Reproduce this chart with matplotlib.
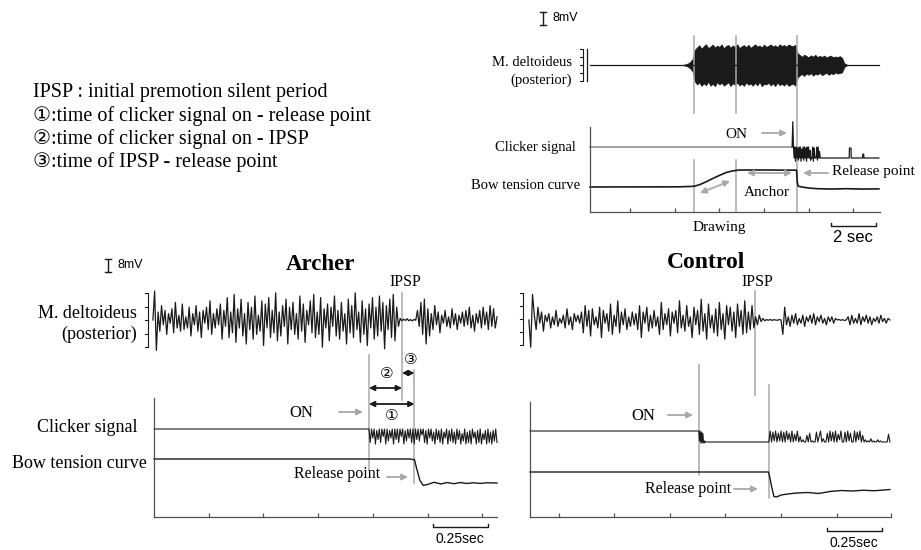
import numpy as np
import matplotlib
matplotlib.use("Agg")
import matplotlib.pyplot as plt
from matplotlib.patches import FancyArrowPatch

W, H = 921, 550
PX_PER_MV = 1.6
SERIF = ["Liberation Serif", "DejaVu Sans"]
SANS = ["Liberation Sans", "DejaVu Sans"]
GRAY = "#a8a8a8"
DARK = "#1a1a1a"
SPINE = "#505050"

# ---------------- overview trial (top right), time in s ----------------
ov_end = 13.0
ov_drawing, ov_anchor, ov_on, ov_release = 4.66, 6.55, 9.06, 9.28
ov_emg_span = (4.2, 11.5)
ov_emg_upper = [0.2, 0.5, 1.0, 2.0, 3.8, 9.5,
                11.0, 12.3, 10.2, 11.8, 12.9, 10.6, 11.5, 12.7, 10.9, 12.1, 11.3, 12.8, 10.4, 11.9, 12.5,
                10.8, 12.2, 11.1, 12.9, 10.5, 11.7, 12.4, 11.0, 12.6, 10.7, 11.8, 12.9, 11.4, 12.2, 10.9,
                12.7, 11.3, 12.0, 12.8, 11.6, 12.3, 11.1, 12.9, 11.8, 12.5, 11.4, 12.8, 12.1, 11.7, 12.6,
                7.5, 6.2, 5.1, 6.4, 5.6, 4.8, 6.0, 5.2, 6.3, 4.9, 5.7, 5.0, 5.9, 4.6, 5.4, 5.8, 4.7, 5.3,
                4.9, 5.5, 4.4, 1.0, 0.4]
ov_emg_lower = [-0.2, -0.5, -1.1, -2.2, -4.0, -10.2,
                -12.1, -10.8, -13.0, -11.4, -12.6, -10.3, -12.9, -11.7, -13.2, -10.6, -12.2, -11.0, -12.8,
                -11.9, -10.7, -13.1, -11.3, -12.4, -10.9, -12.7, -11.6, -13.0, -10.8, -12.3, -11.5, -12.9,
                -11.1, -12.6, -10.5, -13.2, -11.8, -12.1, -11.0, -12.7, -11.4, -13.1, -10.9, -12.5, -11.7,
                -12.8, -11.2, -13.0, -12.2, -11.6, -12.9,
                -7.8, -6.5, -5.6, -6.8, -5.2, -6.1, -5.0, -6.6, -5.4, -6.0, -4.9, -6.3, -5.5, -4.8, -6.1,
                -5.1, -5.7, -4.6, -5.3, -5.0, -4.5, -1.1, -0.4]
ov_click_burst = [1, 3.3, 1, 0, 1, -0.3, 1, 0, 0.9, -0.2, 1, 0, 1, -0.3, 0.8, 0, 1, -0.2, 1, 0, 0.9,
                  -0.3, 1, 0, 1, 0, 0.7, -0.2, 0, 0, 1, -0.3, 0.9, 0, 0, 0, 1, -0.2, 1, 0, 0.6, 0, 0]
ov_click_burst_end = 10.35
ov_click_tail_t = [10.35, 11.62, 11.63, 11.70, 11.71, 12.22, 12.23, 12.27, 12.28, 12.95]
ov_click_tail_v = [0, 0, 0.9, 0.9, 0, 0, 0.35, 0.35, 0, 0]
ov_bow_t = [0, 4.0, 4.66, 4.9, 5.2, 5.5, 5.8, 6.1, 6.4, 6.7, 7.2, 8.0, 8.8, 9.26, 9.29, 9.33,
            9.5, 9.8, 10.2, 10.8, 11.5, 12.2, 12.95]
ov_bow_v = [0, 0.01, 0.04, 0.13, 0.3, 0.5, 0.68, 0.85, 0.95, 1.0, 1.0, 1.0, 0.99, 0.99, 0.3, 0.05,
            0.0, -0.06, -0.1, -0.12, -0.1, -0.12, -0.11]

# ---------------- archer, time in s ----------------
ar_end = 1.567
ar_on, ar_ipsp, ar_release = 0.982, 1.133, 1.19
ar_emg = [0, 18, -19, 5, -7, 9, -3, 6, -9, 4, -2, 7, -8, 11, -5, 3, -7, 10, -6, 2,
          -5, 8, -10, 4, -3, 9, -7, 5, -11, 6, -2, 8, -6, 12, -9, 4, -5, 7, -3, 10,
          -12, 6, -4, 14, -11, 5, -8, 16, -14, 7, -5, 13, -10, 4, -15, 11, -6, 8, -12, 15,
          -9, 3, -7, 12, -16, 10, -5, 14, -11, 6, -8, 17, -13, 5, -10, 9, -4, 13, -15, 8,
          -6, 11, -9, 4, -12, 15, -7, 10, -14, 6, -3, 12, -8, 16, -11, 5, -9, 14, -17, 7,
          -5, 10, -13, 8, -4, 15, -10, 6, -12, 11, -7, 4, -15, 13, -8, 9, -11, 17, -6, 5,
          -14, 12, -9, 7, -16, 10, -5, 14, -12, 8, -10, 15, -7, 11, -18, 9, -6, 13, -11, 16,
          -13, 8, -4, 1, -0.5, 0.5, -0.3, 0.8, -0.5, 0.3, -0.6, 0.4, -0.2, 6, -4, 11, -9, 13, -15, 7,
          -10, 4, -6, 9, -3, 5, -8, 3, -2, 6, -4, 2, -5, 7, -3, 4, -6, 3, -2, 5,
          -4, 6, -3, 8, -5, 3, -7, 4, -2, 6, -5, 8, -3, 5, -6, 9, -4, 7, -5, 2]
ar_click = [0, 0.9, 0, 0.6, 0, 1.0, 0.1, 0.7, 0, 0.9, 0, 0.5, 0, 1.0, 0, 0.8, 0.1, 0.6, 0, 1.0,
            0, 0.7, 0, 0.9, 0, 0.5, 0, 1.0, 0.1, 0.8, 0, 0.6, 0, 0.9, 0, 1.0, 0, 0.7, 0, 0.8,
            0, 0.4, 0, 0.9, 0.1, 1.0, 0, 0.6, 0, 0.8, 0.2, 1.0, 0, 0.7, 0.1, 0.9, 0, 1.0, 0.2, 0.6,
            0, 1.0, 0.1, 0.8, 0, 0.9, 0.2, 1.0, 0, 0.7, 0.1, 1.0, 0.3, 0.8, 0, 1.0, 0.2, 0.9, 0.1, 1.0,
            0, 0.6, 0.2, 1.0, 0.1, 0.9, 0, 1.0, 0.3, 0.7, 0.1, 1.0, 0, 0.9, 0.2, 1.0, 0.1, 0.8, 0, 0.9]
ar_bow_t = [0, 1.17, 1.19, 1.20, 1.215, 1.23, 1.25, 1.28, 1.31, 1.34, 1.37, 1.40, 1.43, 1.46,
            1.49, 1.52, 1.567]
ar_bow_v = [1, 1, 0.97, 0.6, 0.1, -0.1, -0.06, 0.03, -0.04, 0.02, -0.03, 0.02, -0.02, 0.01,
            -0.02, 0.01, 0]

# ---------------- control, time in s ----------------
ct_end = 1.625
ct_on, ct_ipsp, ct_release = 0.76, 1.012, 1.075
ct_emg = [0, -17, 16, 3, -6, 8, -2, 5, -7, 3, -1, 4, -5, 2, -3, 6, -4, 1, -2, 3,
          -5, 7, -3, 2, -6, 4, -1, 3, -2, 5, -8, 9, -4, 6, -10, 7, -3, 2, -5, 8,
          -11, 6, -2, 4, -7, 10, -9, 3, -4, 12, -8, 5, -3, 7, -6, 2, -4, 5, -3, 4,
          -6, 9, -11, 5, -2, 8, -7, 3, -5, 6, -4, 2, -9, 11, -6, 4, -3, 7, -10, 5,
          -2, 6, -8, 12, -5, 3, -7, 9, -4, 2, -11, 8, -3, 6, -9, 13, -7, 4, -12, 10,
          -5, 3, -8, 7, -10, 11, -6, 4, -12, 9, -3, 8, -7, 5, -11, 10, -4, 6, -9, 12,
          -8, 5, -6, 9, -5, 2, -3, 3, -1, 1, -0.5, 0.3, -0.2, 0.4, -0.3, 0.2, 0, -0.2, 0.3, 0,
          -9, 8, -3, 2, -4, 3, -2, 4, -3, 1, -2, 3, -4, 2, -1, 3, -2, 4, -3, 2,
          -1, 3, -2, 1, -3, 2, -1, 2, -2, 1, 0, 0.3, -0.2, 0.2, -0.3, 0.1, 2, -3, 3, -2,
          1, -2, 4, -3, 2, -1, 3, -2, 2, -3, 1, -1, 2, -2, 3, -1, 1, -2, 1, 0]
ct_click_on = [1, 0.1, 1, -0.1, 0.9, -0.1, 0.8, 0, -0.1, 0.1, 0]
ct_click_on_end = 0.79
ct_click_after = [0, 1, 0, 0.9, 0.1, 1, 0, 0.8, 0.1, 1, 0, 0.9, 0, 1, 0.2, 0.8, 0, 1, 0, 0.7,
                  0.1, 1, 0, 0.5, 0, 0.2, 0, 0, 0.6, 0, 0.8, 0, 0.1, 0, 0, 0.9, 0, 0.5, 1, 0,
                  0.3, 0, 0, 0.8, 0, 1, 0.1, 0.9, 0, 1, 0, 0.7, 0.2, 1, 0, 0, 0.9, 0, 1, 0.1,
                  0.8, 0, 0, 1, 0, 0.9, 0.2, 1, 0, 0.6, 0, 0.2, 0, 0.1, 0, 0.3, 0, 0.1, 0, 0,
                  0.2, 0, 0.1, 0, 0, 0, 0, 0, 0.7, 0]
ct_bow_t = [0, 1.073, 1.078, 1.088, 1.098, 1.11, 1.13, 1.16, 1.2, 1.25, 1.3, 1.35, 1.4, 1.45,
            1.5, 1.55, 1.62]
ct_bow_v = [1, 1, 0.85, 0.4, 0.02, 0.0, 0.08, 0.12, 0.16, 0.18, 0.14, 0.22, 0.26, 0.24, 0.27,
            0.25, 0.30]

legend_lines = ["IPSP : initial premotion silent period",
                "\u2460:time of clicker signal on - release point",
                "\u2461:time of clicker signal on - IPSP",
                "\u2462:time of IPSP - release point"]

fig = plt.figure(figsize=(W / 100, H / 100), dpi=100)


def panel(x0, x1, y0, y1, xlim, ticks):
    # y data of every panel is in figure pixels counted from the top
    ax = fig.add_axes([x0 / W, 1 - y1 / H, (x1 - x0) / W, (y1 - y0) / H])
    ax.set_xlim(*xlim)
    ax.set_ylim(y1, y0)
    for s in ("top", "right"):
        ax.spines[s].set_visible(False)
    for s in ("left", "bottom"):
        ax.spines[s].set_color(SPINE)
        ax.spines[s].set_linewidth(0.9)
    ax.set_yticks([])
    ax.set_xticks(ticks)
    ax.tick_params(axis="x", direction="in", length=3, width=0.9, color=SPINE, labelbottom=False)
    ax.patch.set_alpha(0)
    return ax


def txt(px, py, s, **kw):
    kw.setdefault("family", SERIF)
    kw.setdefault("va", "center")
    fig.text(px / W, 1 - py / H, s, **kw)


def arrow(x0, y0, x1, y1, color=GRAY, style="-|>", lw=1.3, ms=9):
    fig.add_artist(FancyArrowPatch((x0 / W, 1 - y0 / H), (x1 / W, 1 - y1 / H),
                                   transform=fig.transFigure, arrowstyle=style,
                                   mutation_scale=ms, color=color, lw=lw, shrinkA=0, shrinkB=0))


def fline(xs, ys, color=DARK, lw=0.9):
    fig.add_artist(plt.Line2D([x / W for x in xs], [1 - y / H for y in ys],
                              transform=fig.transFigure, color=color, lw=lw))


def bracket(x, y0, y1):
    fline([x - 3, x, x, x - 3], [y0, y0, y1, y1], lw=0.8)
    for k in range(1, 4):
        yy = y0 + (y1 - y0) * k / 4
        fline([x - 3, x], [yy, yy], lw=0.8)


def mv_bar(x, ytop, label):
    h = 8 * PX_PER_MV
    fline([x, x], [ytop, ytop + h], lw=1.0)
    fline([x - 3, x + 3], [ytop, ytop], lw=1.0)
    fline([x - 3, x + 3], [ytop + h, ytop + h], lw=1.0)
    txt(x + 9, ytop + h / 2, label, family=SANS, fontsize=9)


def vline(ax, t, y0, y1, color=GRAY, lw=1.1):
    ax.plot([t, t], [y0, y1], color=color, lw=lw, clip_on=False, zorder=1)


def emg(ax, values, t0, t1, base):
    t = np.linspace(t0, t1, len(values))
    ax.plot(t, base - np.array(values) * PX_PER_MV, color=DARK, lw=0.9, clip_on=False, zorder=3)


def sec_bar(ax, t0, length, py, label, size):
    ax.plot([t0, t0, t0 + length, t0 + length], [py - 3, py, py, py - 3],
            color=DARK, lw=1.0, clip_on=False)
    ax.text(t0 + length / 2, py + 12, label, ha="center", va="center",
            family=SANS, fontsize=size)


# ---------------- legend text ----------------
for i, s in enumerate(legend_lines):
    txt(33, 93 + 23 * i, s, fontsize=14.5)

# ---------------- overview panel ----------------
ov = panel(590, 880, 127, 212, (0, ov_end), [1.8 + 2 * k for k in range(6)])
base = 65
ov.plot([0, ov_end - 0.05], [base, base], color=DARK, lw=0.9, clip_on=False)
te = np.linspace(ov_emg_span[0], ov_emg_span[1], len(ov_emg_upper))
ov.fill_between(te, base - np.array(ov_emg_upper) * PX_PER_MV,
                base - np.array(ov_emg_lower) * PX_PER_MV,
                color=DARK, lw=0.6, clip_on=False)
for t in (ov_drawing, ov_anchor):
    vline(ov, t, 36, 113)
    vline(ov, t, 160, 212)
vline(ov, ov_release, 36, 212)
ov.plot([0, ov_on], [147, 147], color="#8a8a8a", lw=1.1, clip_on=False)
tc = np.concatenate([np.linspace(ov_on, ov_click_burst_end, len(ov_click_burst)), ov_click_tail_t])
vc = np.concatenate([ov_click_burst, ov_click_tail_v])
ov.plot(tc, 158 - 11 * vc, color=DARK, lw=0.9, clip_on=False)
ov.plot(ov_bow_t, 187 - 17 * np.array(ov_bow_v), color=DARK, lw=1.2, clip_on=False)
sec_bar(ov, 10.8, 2.0, 226, "2 sec", 12)

bracket(583, 49, 81)
fline([587, 587], [49, 81], lw=0.9)
mv_bar(543, 12, "8mV")
txt(572, 63, "M. deltoideus", ha="right", fontsize=10.5)
txt(572, 80, "(posterior)", ha="right", fontsize=10.5)
txt(576, 147, "Clicker signal", ha="right", fontsize=10.5)
txt(580, 185, "Bow tension curve", ha="right", fontsize=10.5)
txt(736, 134, "ON", ha="center", fontsize=11)
arrow(762, 133, 787, 133)
txt(832, 172, "Release point", ha="left", fontsize=11)
arrow(828, 173, 803, 173)
arrow(700, 193, 730, 181, style="<|-|>")
arrow(747, 173, 792, 173, style="<|-|>")
txt(767, 193, "Anchor", ha="center", fontsize=11)
txt(719, 227, "Drawing", ha="center", fontsize=11)

# ---------------- archer panel ----------------
ar = panel(154, 497, 398, 517, (0, ar_end), [0.25 * k for k in range(1, 7)])
emg(ar, ar_emg, -0.005, ar_end, 320)
vline(ar, ar_on, 355, 470)
vline(ar, ar_ipsp, 293, 400)
vline(ar, ar_release, 370, 483)
tca = np.concatenate([[0], np.linspace(ar_on, ar_end, len(ar_click))])
ar.plot(tca, 429 + 15 * np.concatenate([[0], ar_click]), color=DARK, lw=0.8, clip_on=False)
ar.plot(ar_bow_t, 483 - 24 * np.array(ar_bow_v), color=DARK, lw=1.0, clip_on=False)
for (a, b, y) in ((ar_ipsp, ar_release, 373), (ar_on, ar_ipsp, 388), (ar_on, ar_release, 404)):
    ar.annotate("", xy=(b, y), xytext=(a, y), annotation_clip=False,
                arrowprops=dict(arrowstyle="<|-|>", color=DARK, lw=1.3, mutation_scale=8,
                                shrinkA=0, shrinkB=0))
sec_bar(ar, 1.274, 0.25, 527, "0.25sec", 10)

bracket(148, 293, 347)
mv_bar(108, 259, "8mV")
txt(320, 265, "Archer", ha="center", fontsize=16.5, weight="bold")
txt(405, 282, "IPSP", ha="center", fontsize=11.5)
txt(137, 313, "M. deltoideus", ha="right", fontsize=13)
txt(137, 334, "(posterior)", ha="right", fontsize=13)
txt(137, 427, "Clicker signal", ha="right", fontsize=13)
txt(147, 463, "Bow tension curve", ha="right", fontsize=13)
txt(411, 361, "\u2462", ha="center", fontsize=11)
txt(387, 374, "\u2461", ha="center", fontsize=11)
txt(392, 416, "\u2460", ha="center", fontsize=11)
txt(301, 413, "ON", ha="center", fontsize=12)
arrow(339, 412, 363, 412)
txt(337, 474, "Release point", ha="center", fontsize=11.5)
arrow(387, 477, 408, 477)

# ---------------- control panel ----------------
ct = panel(530, 891, 402, 517, (0, ct_end), [0.13 + 0.25 * k for k in range(6)] + [ct_end])
emg(ct, ct_emg, -0.005, 1.62, 320)
vline(ct, ct_on, 365, 475)
vline(ct, ct_ipsp, 291, 395)
vline(ct, ct_release, 385, 498)
tcc = np.concatenate([[0], np.linspace(ct_on, ct_click_on_end, len(ct_click_on)),
                      [ct_release], np.linspace(ct_release, 1.62, len(ct_click_after))])
vcc = np.concatenate([[1], ct_click_on, [0], ct_click_after])
ct.plot(tcc, 442 - 11 * vcc, color=DARK, lw=0.8, clip_on=False)
ct.plot(ct_bow_t, 497 - 25 * np.array(ct_bow_v), color=DARK, lw=1.0, clip_on=False)
sec_bar(ct, 1.335, 0.25, 531, "0.25sec", 10)

bracket(523, 293, 345)
txt(706, 262, "Control", ha="center", fontsize=17, weight="bold")
txt(757, 282, "IPSP", ha="center", fontsize=11.5)
txt(643, 416, "ON", ha="center", fontsize=12)
arrow(668, 415, 693, 415)
txt(688, 489, "Release point", ha="center", fontsize=11.5)
arrow(734, 489, 758, 489)

fig.savefig("out.png", dpi=100, facecolor="white")
